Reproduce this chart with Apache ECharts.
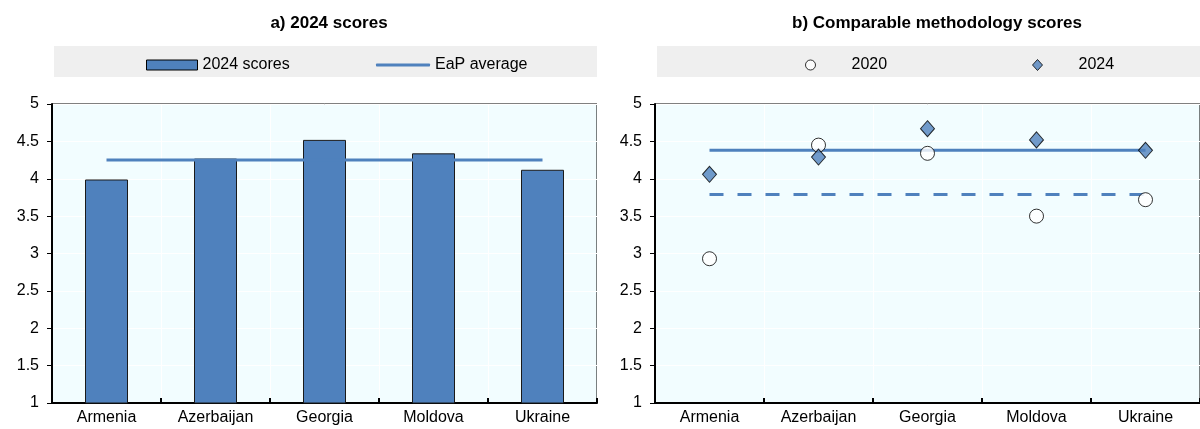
<!DOCTYPE html>
<html>
<head>
<meta charset="utf-8">
<script src="https://cdn.jsdelivr.net/npm/echarts@6/dist/echarts.min.js"></script>
<style>html,body{margin:0;padding:0;background:#fff}#c{width:1200px;height:429px}</style>
</head>
<body>
<div id="c"></div>
<script>
const categories = ['Armenia', 'Azerbaijan', 'Georgia', 'Moldova', 'Ukraine'];
const scores2024 = [3.99, 4.27, 4.52, 4.34, 4.12];
const eapAverage = [4.25, 4.25, 4.25, 4.25, 4.25];
const comp2020 = [2.93, 4.45, 4.34, 3.50, 3.72];
const comp2024 = [4.06, 4.29, 4.67, 4.52, 4.38];
const avgComp2020 = [3.79, 3.79, 3.79, 3.79, 3.79];
const avgComp2024 = [4.38, 4.38, 4.38, 4.38, 4.38];
const yTicks = { min: 1, max: 5, interval: 0.5 };

const FONT = "'Liberation Sans Narrow', 'Arial Narrow', 'Liberation Sans', sans-serif";
const BLUE = '#4F81BD';

const chart = echarts.init(document.getElementById('c'));

function xAxis(gi) {
  return {
    type: 'category', gridIndex: gi, data: categories,
    axisLine: { lineStyle: { color: '#000', width: 2 } },
    axisTick: { show: true, inside: true, length: 5, lineStyle: { color: '#000', width: 2 } },
    axisLabel: { color: '#000', fontFamily: FONT, fontSize: 16, margin: 7 },
    splitLine: { show: true, lineStyle: { color: '#fff', width: 1 } }
  };
}
function yAxis(gi) {
  return {
    type: 'value', gridIndex: gi, min: yTicks.min, max: yTicks.max, interval: yTicks.interval,
    axisLine: { show: true, lineStyle: { color: '#000', width: 2 } },
    axisTick: { show: true, length: 5, lineStyle: { color: '#000', width: 1 } },
    axisLabel: { color: '#000', fontFamily: FONT, fontSize: 16, margin: 13 },
    splitLine: { show: true, lineStyle: { color: '#fff', width: 1 } }
  };
}

const legendText = { color: '#000', fontFamily: FONT, fontSize: 16 };
const legendTextPad = { color: '#000', fontFamily: FONT, fontSize: 16, padding: [0, 0, 0, 31] };

chart.setOption({
  animation: false,
  title: [
    { text: 'a) 2024 scores', left: 324, top: 10, textAlign: 'center',
      textStyle: { fontFamily: FONT, fontSize: 17, fontWeight: 'bold', color: '#000' } },
    { text: 'b) Comparable methodology scores', left: 932, top: 10, textAlign: 'center',
      textStyle: { fontFamily: FONT, fontSize: 17, fontWeight: 'bold', color: '#000' } }
  ],
  graphic: [
    { type: 'rect', shape: { x: 54, y: 46, width: 543, height: 31 }, style: { fill: '#EFEFEF' }, z: -1 },
    { type: 'rect', shape: { x: 657, y: 46, width: 560, height: 31 }, style: { fill: '#EFEFEF' }, z: -1 }
  ],
  legend: [
    { data: [{ name: '2024 scores', icon: 'rect' }], left: 141, top: 52, itemWidth: 51, itemHeight: 10,
      itemStyle: { borderWidth: 1, borderColor: '#000' }, textStyle: legendText },
    { data: [{ name: 'EaP average', icon: 'roundRect' }], left: 371, top: 52, itemWidth: 54, itemHeight: 3,
      itemStyle: { color: BLUE, borderWidth: 0 }, textStyle: legendText },
    { data: [{ name: '2020', icon: 'circle' }], left: 800, top: 52, itemWidth: 10, itemHeight: 10,
      itemStyle: { borderWidth: 1, borderColor: '#000' }, textStyle: legendTextPad },
    { data: [{ name: '2024', icon: 'diamond' }], left: 1027, top: 52, itemWidth: 10, itemHeight: 11,
      itemStyle: { borderWidth: 1, borderColor: '#000' }, textStyle: legendTextPad }
  ],
  grid: [
    { left: 52, top: 104, width: 545, height: 299, show: true, backgroundColor: '#F2FDFF', borderColor: '#000', borderWidth: 1 },
    { left: 655, top: 104, width: 555, height: 299, show: true, backgroundColor: '#F2FDFF', borderColor: '#000', borderWidth: 1 }
  ],
  xAxis: [xAxis(0), xAxis(1)],
  yAxis: [yAxis(0), yAxis(1)],
  series: [
    { name: '2024 scores', type: 'bar', xAxisIndex: 0, yAxisIndex: 0, data: scores2024, barWidth: 43,
      itemStyle: { color: BLUE, borderColor: '#1a1a1a', borderWidth: 1 } },
    { name: 'EaP average', type: 'line', xAxisIndex: 0, yAxisIndex: 0, data: eapAverage, symbol: 'none',
      lineStyle: { color: BLUE, width: 3 }, itemStyle: { color: BLUE }, z: 3 },
    { name: 'EaP average 2024 (comparable)', type: 'line', xAxisIndex: 1, yAxisIndex: 1, data: avgComp2024, symbol: 'none',
      lineStyle: { color: BLUE, width: 3 }, z: 2 },
    { name: 'EaP average 2020 (comparable)', type: 'line', xAxisIndex: 1, yAxisIndex: 1, data: avgComp2020, symbol: 'none',
      lineStyle: { color: BLUE, width: 3, type: [14, 14] }, z: 2 },
    { name: '2020', type: 'scatter', xAxisIndex: 1, yAxisIndex: 1, data: comp2020, symbol: 'circle', symbolSize: 14,
      itemStyle: { color: '#fff', borderColor: '#000', borderWidth: 1 }, z: 4 },
    { name: '2024', type: 'scatter', xAxisIndex: 1, yAxisIndex: 1, data: comp2024, symbol: 'diamond', symbolSize: [14, 16],
      itemStyle: { color: BLUE, borderColor: '#000', borderWidth: 1 }, z: 5 }
  ]
});
</script>
</body>
</html>
